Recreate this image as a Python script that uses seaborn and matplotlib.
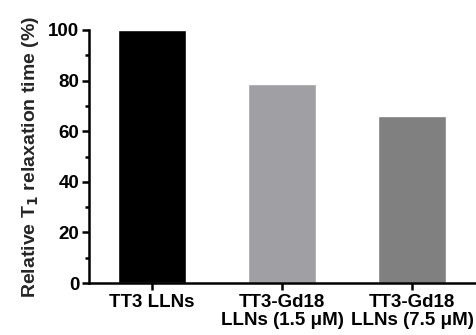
import numpy as np
import pandas as pd
import seaborn as sns
import matplotlib.pyplot as plt

# ===== DATA =====
categories = ["TT3 LLNs", "TT3-Gd18\nLLNs (1.5 μM)", "TT3-Gd18\nLLNs (7.5 μM)"]
relative_t1 = [100, 78.5, 66]
bar_colors = ["#000000", "#a0a0a4", "#808080"]
# ================

sns.set_theme(style="ticks")
plt.rcParams['font.family'] = ['Liberation Sans', 'DejaVu Sans']
plt.rcParams['font.weight'] = 'bold'
plt.rcParams['mathtext.default'] = 'bf'

df = pd.DataFrame({"group": categories, "value": relative_t1})

fig = plt.figure(figsize=(4.77, 3.35), dpi=100)
ax = fig.add_axes([89 / 477, 52 / 335, 1 - 89 / 477, 253 / 335])

sns.barplot(data=df, x="group", y="value", hue="group", palette=bar_colors,
            width=0.53, legend=False, ax=ax, saturation=1)

ax.set_xlim(-0.485, 2.5)
ax.set_ylim(0, 100)
ax.set_yticks([0, 20, 40, 60, 80, 100])
ax.set_yticks(np.arange(10, 100, 20), minor=True)
ax.set_xlabel("")
ax.set_ylabel("Relative T$_1$ relaxation time (%)", fontsize=14, fontweight='bold', labelpad=5)

for lab in ax.get_xticklabels() + ax.get_yticklabels():
    lab.set_fontweight('bold')
    lab.set_fontsize(13.5)
    lab.set_color('black')
for lab in ax.get_xticklabels():
    lab.set_linespacing(1.1)

ax.tick_params(axis='both', which='major', direction='out', length=5, width=1.8, color='black', pad=2)
ax.tick_params(axis='y', which='minor', direction='out', length=3, width=1.8, color='black')
ax.tick_params(axis='x', which='major', pad=3)

sns.despine(ax=ax)
for side in ['left', 'bottom']:
    ax.spines[side].set_linewidth(1.8)
    ax.spines[side].set_color('black')

fig.savefig("out.png", dpi=100)
